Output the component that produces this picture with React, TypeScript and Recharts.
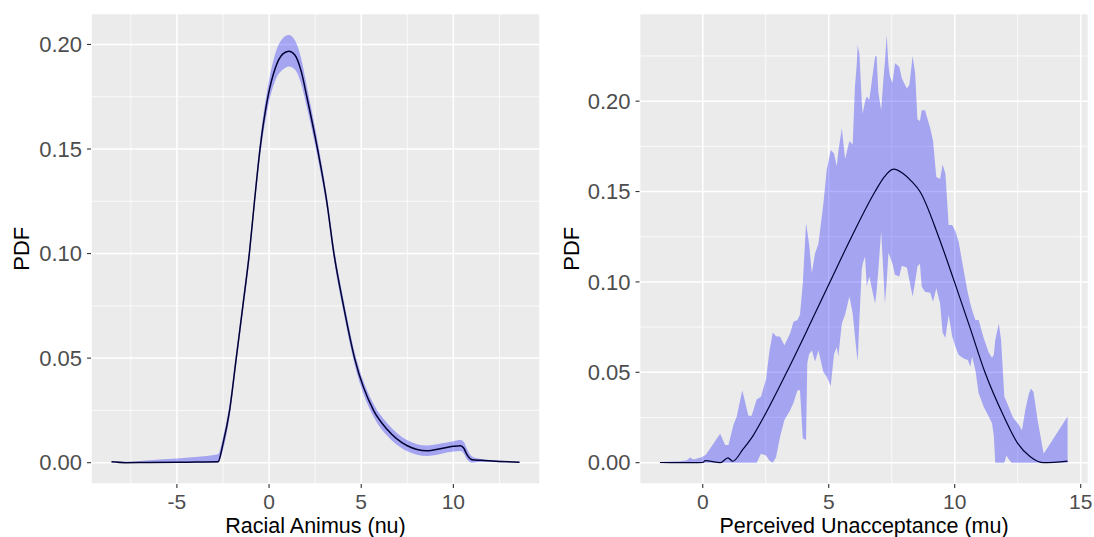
import {
  ComposedChart,
  Area,
  Line,
  XAxis,
  YAxis,
  CartesianGrid,
  Label,
} from "recharts";

// left panel: racial animus (nu)
const nuX = [
  -8.55, -7.8, -6.5, -5, -4, -2.77, -2.5, -2.14, -1.78, -1.42, -1.07, -0.79,
  -0.49, -0.06, 0.35, 0.75, 1.07, 1.4, 1.75, 2.05, 2.63, 3.13, 3.52, 4.04,
  4.64, 5.67, 6.4, 7.5, 8.57, 9.3, 10.0, 10.38, 10.56, 10.74, 11.01, 11.5,
  12.5, 13.59,
];
const nuMean = [
  0.0004, 0.0, 0.0001, 0.0002, 0.0003, 0.0004, 0.009, 0.025, 0.05, 0.075, 0.1,
  0.125, 0.15, 0.175, 0.189, 0.1955, 0.1968, 0.195, 0.187, 0.175, 0.15, 0.125,
  0.1, 0.075, 0.05, 0.025, 0.016, 0.0081, 0.0057, 0.0067, 0.0078, 0.0081,
  0.007, 0.0038, 0.0014, 0.0011, 0.0006, 0.0002,
];
const nuLo = [
  0.0002, 0.0, 0.0, 0.0, 0.0, 0.0, 0.006, 0.022, 0.047, 0.072, 0.097, 0.122,
  0.146, 0.17, 0.183, 0.188, 0.1895, 0.188, 0.181, 0.17, 0.146, 0.122, 0.097,
  0.072, 0.047, 0.022, 0.013, 0.0055, 0.0032, 0.0042, 0.0053, 0.0056, 0.0045,
  0.0015, 0.0, 0.0003, 0.0002, 0.0,
];
const nuHi = [
  0.0006, 0.0004, 0.0012, 0.002, 0.0027, 0.004, 0.012, 0.028, 0.053, 0.078,
  0.103, 0.128, 0.154, 0.18, 0.196, 0.203, 0.2045, 0.202, 0.193, 0.18, 0.154,
  0.128, 0.103, 0.078, 0.053, 0.028, 0.019, 0.0107, 0.0082, 0.0092, 0.0103,
  0.0108, 0.01, 0.0065, 0.003, 0.0018, 0.001, 0.0004,
];

// right panel: perceived unacceptance (mu)
const muBandX = [
  -1.69, -0.9, -0.63, -0.5, -0.37, -0.04, 0.13, 0.69, 0.89, 1.02, 1.22, 1.35,
  1.57, 1.81, 1.94, 2.14, 2.31, 2.51, 2.65, 2.78, 2.91, 3.07, 3.24, 3.47, 3.6,
  3.76, 3.86, 3.97, 4.1, 4.15, 4.22, 4.33, 4.46, 4.59, 4.79, 4.92, 5.08, 5.21,
  5.32, 5.38, 5.52, 5.65, 5.82, 5.95, 6.04, 6.11, 6.15, 6.22, 6.31, 6.35, 6.44,
  6.51, 6.61, 6.84, 6.9, 6.97, 7.08, 7.17, 7.23, 7.3, 7.37, 7.43, 7.53, 7.63,
  7.8, 7.9, 8.1, 8.2, 8.33, 8.43, 8.52, 8.62, 8.69, 8.82, 9.03, 9.14, 9.27,
  9.42, 9.52, 9.63, 9.76, 9.9, 10.03, 10.16, 10.36, 10.52, 10.62, 10.69, 10.82,
  10.95, 11.15, 11.35, 11.48, 11.55, 11.61, 11.75, 11.84, 11.97, 12.05, 12.14,
  12.25, 12.34, 12.54, 12.67, 12.8, 12.94, 13.03, 13.13, 13.29, 13.53, 14.48,
];
const muBandLo = [
  0, 0, 0, 0, 0, 0, 0, 0, 0, 0, 0, 0, 0, 0, 0, 0, 0.005, 0.004, 0.001, 0, 0.003,
  0.0144, 0.0236, 0.029, 0.033, 0.04, 0.04, 0.0135, 0.0125, 0.055, 0.06, 0.062,
  0.056, 0.062, 0.05, 0.0476, 0.0424, 0.06, 0.064, 0.0587, 0.077, 0.082, 0.092,
  0.0827, 0.07, 0.0605, 0.056, 0.08, 0.1066, 0.11, 0.114, 0.0974, 0.103, 0.088,
  0.095, 0.1066, 0.128, 0.105, 0.088, 0.1, 0.116, 0.114, 0.11, 0.104, 0.103,
  0.109, 0.108, 0.101, 0.092, 0.1, 0.1085, 0.11, 0.0974, 0.0946, 0.094, 0.089,
  0.0965, 0.088, 0.072, 0.069, 0.0817, 0.07, 0.064, 0.0596, 0.0577, 0.0568,
  0.053, 0.0587, 0.0513, 0.0384, 0.031, 0.0255, 0.0218, 0.015, 0, 0, 0, 0,
  0.004, 0.002, 0, 0, 0, 0, 0, 0, 0, 0, 0, 0, 0,
];
const muBandHi = [
  0.0004, 0.0008, 0.0014, 0.0028, 0.0017, 0.003, 0.0045, 0.016, 0.0098, 0.0098,
  0.021, 0.0255, 0.04, 0.026, 0.026, 0.035, 0.0365, 0.046, 0.062, 0.072, 0.07,
  0.0697, 0.065, 0.0716, 0.078, 0.079, 0.082, 0.099, 0.1325, 0.128, 0.121,
  0.105, 0.116, 0.121, 0.1435, 0.162, 0.173, 0.171, 0.164, 0.172, 0.185, 0.168,
  0.178, 0.176, 0.208, 0.22, 0.231, 0.226, 0.2, 0.193, 0.2, 0.2026, 0.2007,
  0.2247, 0.225, 0.205, 0.195, 0.212, 0.222, 0.2367, 0.22, 0.2136, 0.21, 0.221,
  0.219, 0.2127, 0.207, 0.209, 0.225, 0.2155, 0.19, 0.189, 0.195, 0.195, 0.185,
  0.178, 0.158, 0.157, 0.165, 0.16, 0.1315, 0.1315, 0.128, 0.122, 0.106, 0.094,
  0.088, 0.0845, 0.079, 0.079, 0.069, 0.061, 0.058, 0.0596, 0.068, 0.077, 0.068,
  0.0365, 0.034, 0.031, 0.027, 0.0245, 0.021, 0.018, 0.029, 0.038, 0.041, 0.039,
  0.0236, 0.005, 0.0255,
];
const muMeanX = [
  -1.7, -1.0, -0.3, 0.0, 0.1, 0.7, 1.0, 1.19, 1.6, 2.0, 2.41, 3.33, 4.2, 5.05,
  5.91, 6.84, 7.2, 7.57, 7.95, 8.3, 8.62, 9.36, 9.99, 10.6, 11.2, 11.97, 12.5,
  13.0, 13.53, 14.48,
];
const muMean = [
  0.0001, 0.0, 0.0, 0.0001, 0.0011, 0.0, 0.0027, 0.0008, 0.0075, 0.015, 0.025,
  0.05, 0.075, 0.1, 0.125, 0.15, 0.158, 0.1624, 0.16, 0.1555, 0.15, 0.125, 0.1,
  0.075, 0.05, 0.025, 0.0107, 0.0033, 0.0, 0.0009,
];

const yTicks = [0, 0.05, 0.1, 0.15, 0.2];
const nuTicks = [-5, 0, 5, 10];
const muTicks = [0, 5, 10, 15];

const nuRows = nuX.map((x, i) => ({ x, mean: nuMean[i], band: [nuLo[i], nuHi[i]] }));
const muBandRows = muBandX.map((x, i) => ({ x, band: [muBandLo[i], muBandHi[i]] }));
const muMeanRows = muMeanX.map((x, i) => ({ x, mean: muMean[i] }));

const font = "'Liberation Sans', Arial, sans-serif";
const yTickStyle = { fill: "#4D4D4D", fontSize: 22 };
const xTickStyle = { fill: "#4D4D4D", fontSize: 21 };
const tickLine = { stroke: "#333333", strokeWidth: 1.1 };

function YTitle(props: any) {
  const { viewBox } = props;
  const cx = viewBox.x + 21;
  const cy = viewBox.y + viewBox.height / 2;
  return (
    <text
      x={cx}
      y={cy}
      transform={`rotate(-90 ${cx} ${cy})`}
      textAnchor="middle"
      dominantBaseline="central"
      fontSize={22}
      fill="#000"
    >
      PDF
    </text>
  );
}

function Panel(props: {
  width: number;
  yWidth: number;
  right: number;
  xDomain: number[];
  yDomain: number[];
  xTicks: number[];
  minorX: number[];
  minorY: number[];
  title: string;
  bandData: any[];
  meanData: any[];
  bandCurve: "monotone" | "linear";
  lineWidth: number;
}) {
  return (
    <ComposedChart
      width={props.width}
      height={537}
      data={props.bandData}
      margin={{ top: 13.5, right: props.right, bottom: 0, left: 0 }}
    >
      <CartesianGrid fill="#EBEBEB" fillOpacity={1} stroke="#FFFFFF" strokeWidth={1.5} />
      <CartesianGrid
        stroke="#FFFFFF"
        strokeWidth={0.75}
        horizontalValues={props.minorY}
        verticalValues={props.minorX}
      />
      <XAxis
        type="number"
        dataKey="x"
        domain={props.xDomain}
        ticks={props.xTicks}
        allowDataOverflow
        height={53}
        axisLine={false}
        tickLine={tickLine}
        tickSize={4}
        tickMargin={6}
        tick={xTickStyle}
        interval={0}
      >
        <Label value={props.title} position="insideBottom" offset={4.5} fill="#000" fontSize={21.5} />
      </XAxis>
      <YAxis
        type="number"
        domain={props.yDomain}
        ticks={yTicks}
        allowDataOverflow
        width={props.yWidth}
        axisLine={false}
        tickLine={tickLine}
        tickSize={4}
        tickMargin={5}
        tick={yTickStyle}
        interval={0}
        tickFormatter={(v: number) => v.toFixed(2)}
      >
        <Label content={<YTitle />} />
      </YAxis>
      <Area
        type={props.bandCurve}
        dataKey="band"
        stroke="none"
        fill="#0000FF"
        fillOpacity={0.3}
        isAnimationActive={false}
        dot={false}
        activeDot={false}
      />
      <Line
        type="monotone"
        data={props.meanData}
        dataKey="mean"
        stroke="#000033"
        strokeWidth={props.lineWidth}
        dot={false}
        activeDot={false}
        isAnimationActive={false}
      />
    </ComposedChart>
  );
}

export default function App() {
  return (
    <div
      style={{
        position: "absolute",
        left: 0,
        top: 0,
        width: 1094,
        height: 537,
        background: "#fff",
        fontFamily: font,
      }}
    >
      <div style={{ position: "absolute", left: 0, top: 0 }}>
        <Panel
          width={550}
          yWidth={91}
          right={10}
          xDomain={[-9.66, 14.7]}
          yDomain={[-0.0102, 0.2148]}
          xTicks={nuTicks}
          minorX={[-7.5, -2.5, 2.5, 7.5, 12.5]}
          minorY={[0.025, 0.075, 0.125, 0.175]}
          title="Racial Animus (nu)"
          bandData={nuRows}
          meanData={nuRows}
          bandCurve="monotone"
          lineWidth={1.5}
        />
      </div>
      <div style={{ position: "absolute", left: 550, top: 0 }}>
        <Panel
          width={544}
          yWidth={89.5}
          right={5.5}
          xDomain={[-2.51, 15.31]}
          yDomain={[-0.0118, 0.2485]}
          xTicks={muTicks}
          minorX={[-2.5, 2.5, 7.5, 12.5]}
          minorY={[0.025, 0.075, 0.125, 0.175, 0.225]}
          title="Perceived Unacceptance (mu)"
          bandData={muBandRows}
          meanData={muMeanRows}
          bandCurve="linear"
          lineWidth={1.2}
        />
      </div>
    </div>
  );
}
